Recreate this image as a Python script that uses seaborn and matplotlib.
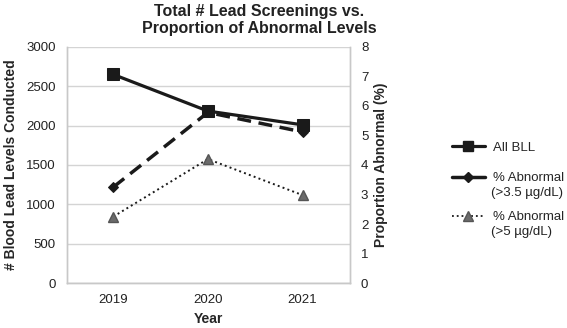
import matplotlib
matplotlib.use("Agg")
import matplotlib.pyplot as plt
import seaborn as sns
import pandas as pd
from matplotlib.lines import Line2D

years = ["2019", "2020", "2021"]
all_bll = [2650, 2185, 2010]
abn_35 = [3.25, 5.78, 5.12]
abn_5 = [2.25, 4.2, 2.98]
left_ticks = [0, 500, 1000, 1500, 2000, 2500, 3000]
right_ticks = [0, 1, 2, 3, 4, 5, 6, 7, 8]
legend_first = ["All BLL", "% Abnormal", "% Abnormal"]
legend_second = [None, "(>3.5 µg/dL)", "(>5 µg/dL)"]

sns.set_style("white")
plt.rcParams['font.family'] = ['Liberation Sans', 'DejaVu Sans']

df = pd.DataFrame({"pos": range(len(years)), "all": all_bll, "a35": abn_35, "a5": abn_5})

fig = plt.figure(figsize=(5.67, 3.28), dpi=100)
ax = fig.add_axes([0.118, 0.137, 0.499, 0.72])
ax2 = ax.twinx()

DARK = "#1a1a1a"
sns.lineplot(data=df, x="pos", y="all", ax=ax, color=DARK, lw=2.3,
             marker="s", markersize=8, markeredgecolor=DARK, zorder=3)
sns.lineplot(data=df, x="pos", y="a35", ax=ax2, color=DARK, lw=2.5,
             marker="D", markersize=5.5, markeredgecolor=DARK)
ax2.lines[-1].set_dashes([4, 2.2])
sns.lineplot(data=df, x="pos", y="a5", ax=ax2, color=DARK, lw=1.4)
ax2.lines[-1].set_linestyle(":")
ax2.plot(df["pos"], df["a5"], ls="none", marker="^", ms=7.5, color="#6b6b6b",
         mec="#555555")

ax.set_xlim(-0.49, 2.5)
ax.set_ylim(0, 3000)
ax2.set_ylim(0, 8)
ax.set_yticks(left_ticks)
ax2.set_yticks(right_ticks)
ax.set_xticks(range(len(years)))
ax.set_xticklabels(years)
ax.yaxis.grid(True, color="#d4d4d4", lw=1)
ax.set_axisbelow(True)
for a in (ax, ax2):
    for s in a.spines.values():
        s.set_color("#c8c8c8")
        s.set_linewidth(1)
    a.spines["top"].set_visible(False)
    a.tick_params(length=0, labelsize=9.5, colors="#222222", pad=8)

ax.set_xlabel("Year", fontsize=10, fontweight="bold", labelpad=4)
ax.set_ylabel("# Blood Lead Levels Conducted", fontsize=10, fontweight="bold", labelpad=6)
ax2.set_ylabel("Proportion Abnormal (%)", fontsize=10, fontweight="bold", labelpad=4)
ax.set_title("Total # Lead Screenings vs.\nProportion of Abnormal Levels",
             fontsize=11.5, fontweight="bold", color="#222222", pad=10, x=0.68)

handles = [
    Line2D([], [], color=DARK, lw=2.3, marker="s", ms=7),
    Line2D([], [], color=DARK, lw=2.5, marker="D", ms=5),
    Line2D([], [], color=DARK, lw=1.3, ls=":", marker="^", ms=7,
           markerfacecolor="#6b6b6b", markeredgecolor="#555555"),
]
row_y = [0.549, 0.457, 0.338]
for h, first, second, y in zip(handles, legend_first, legend_second, row_y):
    fig.legend([h], [first], loc="center left", bbox_to_anchor=(0.797, y),
               frameon=False, fontsize=9.5, handlelength=2.5,
               handletextpad=0.6, borderpad=0, borderaxespad=0)
    if second:
        fig.text(0.866, y - 0.046, second, fontsize=9.5, va="center",
                 ha="left", color="#222222")

fig.savefig("out.png", dpi=100)
